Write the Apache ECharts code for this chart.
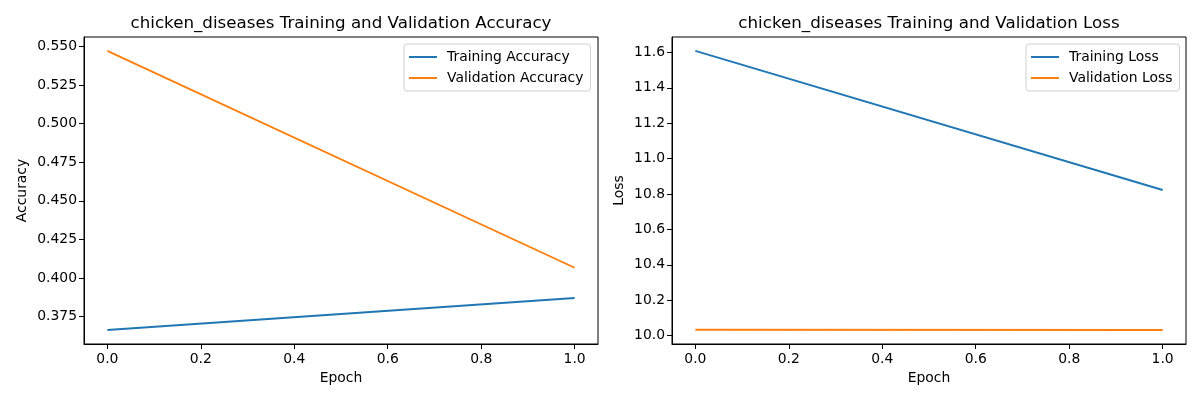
<!DOCTYPE html>
<html>
<head>
<meta charset="utf-8">
<script src="https://cdn.jsdelivr.net/npm/echarts@6/dist/echarts.min.js"></script>
<style>
  html, body { margin: 0; padding: 0; background: #fff; }
  #chart { width: 1200px; height: 400px; }
</style>
</head>
<body>
<div id="chart"></div>
<script>
const epochs = [0, 1];
const trainAcc = [0.3662, 0.3870];
const valAcc = [0.5472, 0.4066];
const trainLoss = [11.608, 10.823];
const valLoss = [10.034, 10.032];

const xTicks = [0, 0.2, 0.4, 0.6, 0.8, 1.0];
const accTicks = [0.375, 0.4, 0.425, 0.45, 0.475, 0.5, 0.525, 0.55];
const lossTicks = [10.0, 10.2, 10.4, 10.6, 10.8, 11.0, 11.2, 11.4, 11.6];

(function () {
  const el = document.getElementById('chart');
  const chart = echarts.init(el);

  const font = 'DejaVu Sans';
  const blue = '#1f77b4';
  const orange = '#ff7f0e';

  // matplotlib style 5% margins
  function bounds(arrs) {
    const all = [].concat(...arrs);
    const lo = Math.min(...all);
    const hi = Math.max(...all);
    const m = (hi - lo) * 0.05;
    return [lo - m, hi + m];
  }
  const accB = bounds([trainAcc, valAcc]);
  const lossB = bounds([trainLoss, valLoss]);

  const pairs = (ys) => epochs.map((x, i) => [x, ys[i]]);

  function xAxis(gridIndex) {
    return {
      type: 'value',
      gridIndex,
      min: -0.05,
      max: 1.05,
      name: 'Epoch',
      nameLocation: 'middle',
      nameGap: 27,
      nameTextStyle: { color: '#000', fontFamily: font, fontSize: 13.9 },
      axisLine: { show: true, onZero: false, lineStyle: { color: '#000', width: 1 } },
      axisTick: { show: true, length: 5, customValues: xTicks, lineStyle: { color: '#000' } },
      axisLabel: {
        customValues: xTicks,
        color: '#000', fontFamily: font, fontSize: 13.9, margin: 8,
        formatter: (v) => v.toFixed(1),
      },
      splitLine: { show: false },
    };
  }

  function yAxis(gridIndex, b, ticks, name, digits, gap) {
    return {
      type: 'value',
      gridIndex,
      min: b[0],
      max: b[1],
      name,
      nameLocation: 'middle',
      nameGap: gap,
      nameTextStyle: { color: '#000', fontFamily: font, fontSize: 13.9 },
      axisLine: { show: true, onZero: false, lineStyle: { color: '#000', width: 1 } },
      axisTick: { show: true, length: 5, customValues: ticks, lineStyle: { color: '#000' } },
      axisLabel: {
        customValues: ticks,
        color: '#000', fontFamily: font, fontSize: 13.9, margin: 7,
        formatter: (v) => v.toFixed(digits),
      },
      splitLine: { show: false },
    };
  }

  function line(name, data, color, idx) {
    return {
      name,
      type: 'line',
      xAxisIndex: idx,
      yAxisIndex: idx,
      data: pairs(data),
      showSymbol: false,
      symbol: 'none',
      lineStyle: { color, width: 1.9 },
      itemStyle: { color },
    };
  }

  function legend(names, left) {
    return {
      data: names.map((n) => ({ name: n, icon: 'rect' })),
      orient: 'vertical',
      left,
      top: 44,
      itemWidth: 28,
      itemHeight: 2,
      itemGap: 5,
      padding: [5, 7, 5, 5],
      backgroundColor: 'rgba(255,255,255,0.8)',
      borderColor: '#d0d0d0',
      borderWidth: 1,
      borderRadius: 3,
      textStyle: { color: '#000', fontFamily: font, fontSize: 13.9, lineHeight: 16, padding: [0, 0, 0, 5] },
      selectedMode: false,
    };
  }

  chart.setOption({
    animation: false,
    backgroundColor: '#fff',
    title: [
      {
        text: 'chicken_diseases Training and Validation Accuracy',
        left: 336, top: 10, textAlign: 'center',
        textStyle: { color: '#000', fontFamily: font, fontSize: 16.7, fontWeight: 'normal' },
      },
      {
        text: 'chicken_diseases Training and Validation Loss',
        left: 924, top: 10, textAlign: 'center',
        textStyle: { color: '#000', fontFamily: font, fontSize: 16.7, fontWeight: 'normal' },
      },
    ],
    legend: [
      legend(['Training Accuracy', 'Validation Accuracy'], 404),
      legend(['Training Loss', 'Validation Loss'], 1026),
    ],
    grid: [
      { left: 84, right: 602, top: 37, bottom: 56, show: true, borderColor: '#000', borderWidth: 1, backgroundColor: 'transparent' },
      { left: 672, right: 14, top: 37, bottom: 56, show: true, borderColor: '#000', borderWidth: 1, backgroundColor: 'transparent' },
    ],
    xAxis: [xAxis(0), xAxis(1)],
    yAxis: [
      yAxis(0, accB, accTicks, 'Accuracy', 3, 55),
      yAxis(1, lossB, lossTicks, 'Loss', 1, 46),
    ],
    series: [
      line('Training Accuracy', trainAcc, blue, 0),
      line('Validation Accuracy', valAcc, orange, 0),
      line('Training Loss', trainLoss, blue, 1),
      line('Validation Loss', valLoss, orange, 1),
    ],
  });

  window.addEventListener('resize', () => chart.resize());
})();
</script>
</body>
</html>
